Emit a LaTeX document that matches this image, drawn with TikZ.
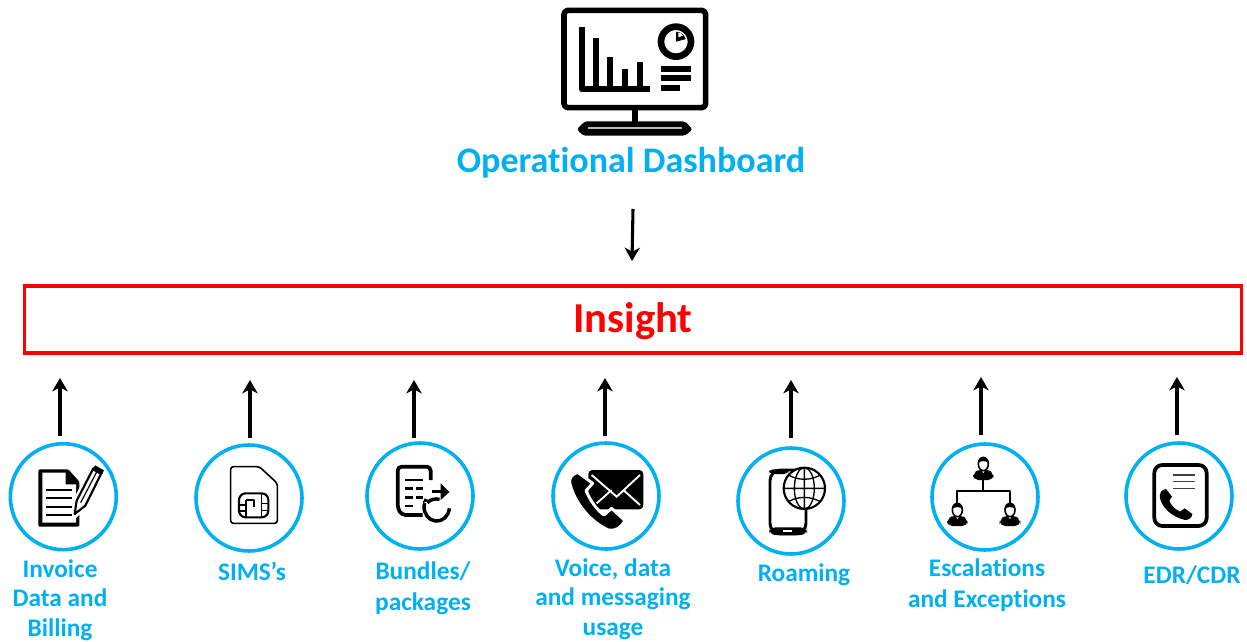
\documentclass[tikz,border=0pt]{standalone}
\usepackage{fontspec}
\setmainfont{Carlito}[RawFeature=-liga]
\definecolor{sky}{HTML}{00B0F0}
\definecolor{insred}{HTML}{FF0000}
\usetikzlibrary{arrows.meta}
\tikzset{
  hub/.style={circle,draw=sky,line width=2.7pt,minimum size=79.5pt,inner sep=0pt,fill=white},
  lab/.style={text=sky,font=\bfseries\fontsize{19}{23.2}\selectfont,align=center,inner sep=0pt},
  arr/.style={-{Stealth[length=10pt,width=11.5pt,inset=3pt]},line width=2.3pt,black},
  z1/.style={shift={(#1,440)},x=0.25pt,y=-0.25pt},
  ink/.style={black,line cap=butt,line join=round}
}
\newcommand{\manicon}[2]{%
  \begin{scope}[shift={(#1,#2)}]
    \fill[black,rounded corners=4pt] (-31,46)--(-31,26)--(-12,14)--(12,14)--(31,26)--(31,46)--cycle;
    \fill[white] (-6,14)--(0,26)--(6,14)--cycle;
    \fill[white,draw=black,line width=1.2pt] (0,-2) ellipse (15 and 20);
    \fill[black] (-16,-4) .. controls (-17,-28) and (17,-28) .. (16,-4) .. controls (10,-13) and (-10,-13) .. (-16,-4);
  \end{scope}}
\begin{document}
\begin{tikzpicture}[x=0.75pt,y=-0.75pt]
\useasboundingbox (0,0) rectangle (1247,642);
% dashboard icon
\begin{scope}[shift={(540,0)},x=0.25pt,y=-0.25pt]
  \draw[ink,line width=4.2pt,rounded corners=3pt] (72,31) rectangle (497,323);
  \draw[ink,line width=4.4pt] (285,330)--(285,368);
  \fill[black,rounded corners=2pt] (110,388)--(135,364)--(435,364)--(458,388)--(435,407)--(130,407)--cycle;
  \draw[gray!55,line width=1.4pt] (145,385)--(425,385);
  \draw[ink,line width=4.4pt,line join=round] (125,82)--(125,268)--(330,268);
  \draw[ink,line width=4.4pt] (167,115)--(167,268) (210,172)--(210,268) (255,208)--(255,268) (300,187)--(300,268);
  \draw[ink,line width=5pt] (408,125) circle (45);
  \fill[black] (408,125)--(408,95) arc (-90:-15:30)--cycle;
  \fill[white] (415,112)--(415,97) arc (-80:-30:20)--cycle;
  \draw[ink,line width=4.4pt] (362,208)--(452,208) (362,235)--(452,235) (362,263)--(420,263);
\end{scope}
\node[font=\bfseries\fontsize{27}{32}\selectfont,text=sky,inner sep=0pt] (title) at (631,163) {Operational Dashboard};
\node[draw=insred,line width=2.6pt,text=insred,font=\bfseries\fontsize{32}{38}\selectfont,minimum width=1217*0.75pt,minimum height=67*0.75pt,inner sep=0pt] (insight) at (633,319.5) {\raisebox{-10pt}[0pt][0pt]{Insight}};
% circles
\node[hub] (c1) at (63.3,496.7) {};
\node[hub] (c2) at (249,498) {};
\node[hub] (c3) at (420,496) {};
\node[hub] (c4) at (606,496) {};
\node[hub] (c5) at (791,501) {};
\node[hub] (c6) at (985,497) {};
\node[hub] (c7) at (1179,496) {};
% invoice icon
\begin{scope}[z1=0]
  \fill[black,rounded corners=1pt] (115,88)--(205,88)--(238,125)--(238,260)--(115,260)--cycle;
  \fill[white] (127,98)--(197,98)--(197,133)--(228,133)--(228,248)--(127,248)--cycle;
  \draw[ink,line width=1.3pt] (138,150)--(215,150) (138,175)--(215,175) (138,200)--(215,200) (138,225)--(215,225);
  \fill[white] (215,190)--(275,70)--(320,95)--(262,200)--(222,240)--cycle;
  \draw[ink,line width=1.6pt,line join=round] (230,182)--(280,85)--(305,98)--(256,197)--(224,222)--cycle;
  \fill[black] (277,90)--(285,76)--(312,91)--(304,106)--cycle;
  \draw[ink,line width=.9pt] (242,188)--(290,96);
\end{scope}
% sim icon
\begin{scope}[z1=0]
  \draw[ink,line width=1.2pt,rounded corners=2pt] (692,80)--(778,80)--(832,130)--(832,250)--(692,250)--cycle;
  \draw[ink,line width=1.6pt,rounded corners=5pt] (717,160) rectangle (805,232);
  \draw[ink,line width=1.2pt] (717,195)--(738,195) (717,213)--(738,213) (738,180)--(738,232) (785,160)--(785,232) (785,190)--(805,190) (785,212)--(805,212) (738,180)--(762,180)--(762,200);
\end{scope}
% bundles icon
\begin{scope}[z1=350]
  \draw[ink,line width=2.8pt,rounded corners=3pt] (242,120)--(242,80)--(143,80)--(143,205)--(155,225)--(218,225);
  \draw[ink,line width=2pt] (165,120)--(220,120);
  \draw[ink,line width=2.2pt] (165,146)--(190,146) (198,146)--(220,146) (165,172)--(190,172) (198,172)--(220,172) (165,198)--(190,198);
  \draw[ink,line width=2.4pt] (245,155)--(275,155);
  \fill[black] (272,130)--(298,156)--(272,180)--cycle;
  \draw[ink,line width=2.6pt] (298,205) arc (5:215:38 and 42);
  \fill[white] (222,188)--(262,168)--(262,200)--cycle;
  \draw[ink,line width=2.6pt] (232,188) arc (-135:-75:38);
\end{scope}
% voice icon
\begin{scope}[z1=350]
  \fill[black,rounded corners=3pt] (715,90) rectangle (880,208);
  \draw[white,line width=1.4pt] (725,105)--(800,170)--(870,105) (870,195)--(820,150) (740,190)--(785,150);
  \path[draw=white,line width=2.2pt,fill=black,line join=round] (683,97) .. controls (665,103) and (655,115) .. (660,132) .. controls (675,190) and (720,245) .. (775,270) .. controls (795,275) and (815,262) .. (825,242) -- (785,205) -- (762,225) .. controls (740,210) and (720,180) .. (708,152) -- (728,130) -- cycle;
\end{scope}
% roaming icon
\begin{scope}[z1=725]
  \draw[ink,line width=2.2pt,rounded corners=8pt] (135,90) rectangle (243,282);
  \fill[black,rounded corners=3pt] (132,88) rectangle (190,102);
  \fill[black,rounded corners=5pt] (132,262) rectangle (246,285);
  \fill[white] (173,270) rectangle (200,277);
  \draw[ink,fill=white,line width=1.6pt] (238,145) circle (62);
  \draw[ink,line width=1pt] (238,83)--(238,207) (176,145)--(300,145) (238,145) ellipse (30 and 62);
  \draw[ink,line width=1pt] (190,105) .. controls (220,122) and (256,122) .. (286,105) (190,185) .. controls (220,168) and (256,168) .. (286,185);
\end{scope}
% org icon
\begin{scope}[z1=725]
  \draw[ink,line width=1.5pt] (775,120)--(775,152) (697,190)--(697,152)--(855,152)--(855,190);
\end{scope}
\begin{scope}[shift={(725,440)},x=0.25pt,y=-0.25pt]
  \manicon{775}{74}
  \manicon{855}{212}
  \manicon{697}{212}
\end{scope}
% edr icon
\begin{scope}[z1=1110]
  \draw[ink,line width=2.8pt,rounded corners=6pt] (133,75) rectangle (290,258);
  \draw[black!75,line width=1.2pt] (188,105)--(255,105) (188,125)--(255,125) (188,145)--(255,145);
  \fill[black] (168,147) .. controls (155,148) and (147,160) .. (150,175) .. controls (158,205) and (185,230) .. (225,240) .. controls (238,240) and (246,232) .. (247,222) -- (224,205) -- (210,215) .. controls (195,208) and (182,195) .. (178,182) -- (186,170) -- cycle;
\end{scope}
% arrows
\coordinate (t0) at (633,209); \coordinate (t1) at (632,261);
\draw[arr] (t0) -- (t1);
\coordinate (a1) at (60,436);  \coordinate (b1) at (60,378);
\coordinate (a2) at (250,438); \coordinate (b2) at (250,380);
\coordinate (a3) at (414,438); \coordinate (b3) at (414,380);
\coordinate (a4) at (605,436); \coordinate (b4) at (605,378);
\coordinate (a5) at (791,438); \coordinate (b5) at (791,380);
\coordinate (a6) at (981,435); \coordinate (b6) at (981,377);
\coordinate (a7) at (1177,435);\coordinate (b7) at (1177,377);
\foreach \i in {1,...,7} \draw[arr] (a\i) -- (b\i);
% labels
\node[lab,anchor=north,font=\bfseries\fontsize{19}{22}\selectfont] (l1) at (60,559.5) {Invoice\\Data and\\Billing};
\node[lab] (l2) at (252,571) {SIMS’s};
\node[lab,anchor=north] (l3) at (423,561.5) {Bundles/\\packages};
\node[lab,anchor=north,font=\bfseries\fontsize{19}{22}\selectfont] (l4) at (613,558.5) {Voice, data\hspace{6pt}\\and messaging\\usage\hspace{6pt}};
\node[lab] (l5) at (804,575) {Roaming};
\node[lab,anchor=north] (l6) at (987,558.5) {Escalations\\and Exceptions};
\node[lab] (l7) at (1192,575) {EDR/CDR};
\end{tikzpicture}
\end{document}
